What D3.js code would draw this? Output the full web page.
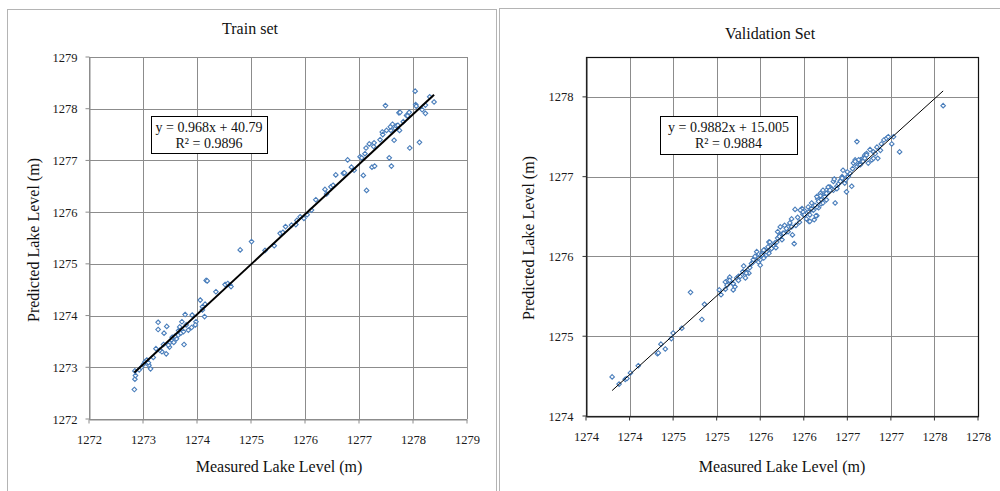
<!DOCTYPE html>
<html>
  <head>
    <title>Lake level scatter</title>
    <style>
      body,
      html {
        margin: 0;
        padding: 0;
        background: #fff;
      }
      svg {
        display: block;
        font-family: 'Liberation Serif', 'Times New Roman', serif;
      }
    </style>
  </head>
  <body>
    <script src="https://cdn.jsdelivr.net/npm/d3@7"></script>
    <script>
      // measured vs predicted, train set
      const trainPoints = [
        [1272.84, 1272.57], [1272.85, 1272.77], [1272.86, 1272.84], [1272.85, 1272.93],
        [1272.93, 1272.95], [1272.97, 1273.0], [1273.01, 1273.06], [1273.04, 1273.11],
        [1273.07, 1273.14], [1273.11, 1273.04], [1273.14, 1272.97], [1273.1, 1273.09],
        [1273.19, 1273.19], [1273.24, 1273.36], [1273.28, 1273.87], [1273.28, 1273.73],
        [1273.35, 1273.3], [1273.31, 1273.33], [1273.38, 1273.44], [1273.39, 1273.66],
        [1273.44, 1273.79], [1273.43, 1273.26], [1273.49, 1273.39], [1273.49, 1273.47],
        [1273.53, 1273.53], [1273.57, 1273.48], [1273.62, 1273.55], [1273.65, 1273.62],
        [1273.7, 1273.66], [1273.72, 1273.88], [1273.75, 1273.69], [1273.78, 1274.02],
        [1273.76, 1273.44], [1273.8, 1273.82], [1273.84, 1273.72], [1273.9, 1273.77],
        [1273.98, 1273.88], [1273.91, 1274.01], [1273.97, 1273.82], [1274.06, 1274.3],
        [1274.1, 1274.17], [1274.14, 1273.98], [1274.15, 1274.22], [1274.1, 1274.11],
        [1274.17, 1274.68], [1274.19, 1274.67], [1274.35, 1274.46], [1274.52, 1274.6],
        [1274.57, 1274.62], [1274.61, 1274.59], [1274.63, 1274.56], [1273.54, 1273.58],
        [1273.66, 1273.71], [1273.59, 1273.6], [1273.47, 1273.43], [1273.68, 1273.78],
        [1274.8, 1275.27], [1275.01, 1275.43], [1275.26, 1275.26], [1275.43, 1275.35],
        [1275.54, 1275.59], [1275.59, 1275.61], [1275.64, 1275.72], [1275.75, 1275.75],
        [1275.83, 1275.76], [1275.85, 1275.84], [1275.91, 1275.91], [1275.98, 1275.88],
        [1276.04, 1275.95], [1276.12, 1276.04], [1276.2, 1276.24], [1276.37, 1276.44],
        [1276.4, 1276.35], [1276.48, 1276.49], [1276.52, 1276.52], [1276.57, 1276.72],
        [1276.71, 1276.75], [1276.73, 1276.76], [1276.79, 1277.01], [1276.86, 1276.87],
        [1276.91, 1276.81], [1277.02, 1277.07], [1277.05, 1277.05], [1277.08, 1276.71],
        [1277.11, 1277.13], [1277.13, 1277.24], [1277.14, 1276.42], [1277.19, 1277.32],
        [1277.24, 1276.87], [1277.27, 1277.27], [1277.29, 1276.89], [1277.28, 1277.34],
        [1277.39, 1277.4], [1277.43, 1277.55], [1277.44, 1277.5], [1277.49, 1278.06],
        [1277.51, 1277.58], [1277.56, 1277.05], [1277.59, 1277.58], [1277.6, 1276.89],
        [1277.62, 1277.7], [1277.58, 1277.65], [1277.65, 1277.39], [1277.67, 1277.62],
        [1277.69, 1277.67], [1277.72, 1277.68], [1277.74, 1277.92], [1277.75, 1277.58],
        [1277.76, 1277.93], [1277.82, 1277.75], [1277.88, 1277.87], [1277.9, 1277.86],
        [1277.93, 1277.93], [1277.94, 1277.24], [1278.04, 1278.34], [1278.05, 1278.08],
        [1278.06, 1278.05], [1278.12, 1277.35], [1278.17, 1277.98], [1278.23, 1278.07],
        [1278.23, 1277.91], [1278.31, 1278.23], [1278.39, 1278.13]
      ];

      // measured vs predicted, validation set
      const validPoints = [
        [1274.2, 1274.34], [1274.28, 1274.25], [1274.35, 1274.31], [1274.37, 1274.32],
        [1274.41, 1274.39], [1274.5, 1274.48], [1274.72, 1274.63], [1274.73, 1274.64],
        [1274.76, 1274.75], [1274.81, 1274.69], [1274.88, 1274.82], [1274.9, 1274.89],
        [1275.0, 1274.95], [1275.1, 1275.4], [1275.23, 1275.06], [1275.26, 1275.25],
        [1275.43, 1275.43], [1275.45, 1275.37], [1275.5, 1275.53], [1275.5, 1275.44],
        [1275.52, 1275.49], [1275.53, 1275.55], [1275.57, 1275.52], [1275.61, 1275.47],
        [1275.63, 1275.58], [1275.65, 1275.6], [1275.69, 1275.62], [1275.71, 1275.73],
        [1275.73, 1275.58], [1275.74, 1275.66], [1275.77, 1275.64], [1275.78, 1275.71],
        [1275.8, 1275.76], [1275.82, 1275.78], [1275.86, 1275.85], [1275.88, 1275.78],
        [1275.9, 1275.74], [1275.9, 1275.81], [1275.92, 1275.89], [1275.94, 1275.83],
        [1275.95, 1275.93], [1275.97, 1275.87], [1275.99, 1275.97], [1276.0, 1276.03],
        [1276.0, 1275.89], [1276.02, 1275.94], [1276.05, 1275.99], [1276.07, 1276.02],
        [1276.1, 1276.08], [1276.08, 1275.96], [1276.13, 1276.22], [1276.13, 1276.12],
        [1276.15, 1276.06], [1276.16, 1276.14], [1276.18, 1276.24], [1276.2, 1276.16],
        [1276.22, 1276.22], [1276.24, 1276.27], [1276.26, 1276.32], [1276.27, 1276.12],
        [1276.29, 1276.01], [1276.3, 1276.44], [1276.31, 1276.24], [1276.33, 1276.34],
        [1276.35, 1276.28], [1276.38, 1276.45], [1276.39, 1276.38], [1276.41, 1276.42],
        [1276.45, 1276.47], [1276.46, 1276.29], [1276.49, 1276.52], [1276.51, 1276.43],
        [1276.52, 1276.31], [1276.55, 1276.36], [1276.56, 1276.57], [1276.59, 1276.64],
        [1276.6, 1276.51], [1276.62, 1276.58], [1276.64, 1276.62], [1276.66, 1276.68],
        [1276.68, 1276.65], [1276.7, 1276.72], [1276.72, 1276.7], [1276.74, 1276.79],
        [1276.75, 1276.82], [1276.76, 1276.52], [1276.78, 1276.73], [1276.8, 1276.76],
        [1276.82, 1276.8], [1276.84, 1276.85], [1276.85, 1276.93], [1276.87, 1276.77],
        [1276.89, 1276.66], [1276.91, 1276.86], [1276.93, 1276.89], [1276.95, 1276.73],
        [1276.97, 1277.02], [1276.99, 1277.06], [1277.01, 1277.29], [1277.01, 1276.98],
        [1277.03, 1277.0], [1277.05, 1277.06], [1277.06, 1277.04], [1277.08, 1277.08],
        [1277.1, 1277.12], [1277.12, 1277.14], [1277.14, 1277.02], [1277.16, 1277.19],
        [1277.18, 1277.06], [1277.2, 1277.16], [1277.22, 1277.14], [1277.28, 1277.18],
        [1277.29, 1277.26], [1277.32, 1277.31], [1277.35, 1277.33], [1277.37, 1277.35],
        [1277.41, 1277.26], [1277.43, 1277.35], [1277.5, 1277.16], [1278.0, 1277.74],
        [1275.55, 1275.59], [1275.59, 1275.43], [1275.84, 1275.83], [1275.86, 1275.91],
        [1276.1, 1276.16], [1276.43, 1276.32], [1276.57, 1276.46], [1276.66, 1276.56],
        [1276.85, 1276.83], [1276.9, 1276.91], [1277.24, 1277.22], [1277.25, 1277.08],
        [1276.26, 1276.22], [1276.22, 1276.16], [1276.2, 1276.2], [1276.17, 1276.14],
        [1276.12, 1276.1], [1276.09, 1276.03], [1276.03, 1275.95], [1276.01, 1276.03],
        [1275.97, 1275.91], [1275.94, 1275.93], [1275.92, 1275.87], [1275.88, 1275.83],
        [1275.84, 1275.85], [1275.82, 1275.81], [1275.74, 1275.64], [1275.7, 1275.66],
        [1275.67, 1275.6], [1275.65, 1275.55], [1275.59, 1275.51], [1275.55, 1275.55],
        [1276.47, 1276.29], [1276.46, 1276.41], [1276.39, 1276.41], [1276.41, 1276.37],
        [1276.36, 1276.43], [1276.62, 1276.52], [1276.55, 1276.47], [1277.2, 1277.08],
        [1277.12, 1277.12], [1277.1, 1277.08], [1277.08, 1277.04], [1277.05, 1277.0],
        [1277.03, 1277.06], [1276.99, 1277.04], [1276.96, 1276.95], [1276.91, 1276.85],
        [1276.88, 1276.81], [1276.84, 1276.83], [1276.82, 1276.79], [1276.78, 1276.7],
        [1276.74, 1276.68], [1276.7, 1276.68], [1276.68, 1276.72], [1276.66, 1276.64],
        [1276.64, 1276.6], [1276.62, 1276.68], [1276.6, 1276.56], [1276.59, 1276.61],
        [1276.57, 1276.54], [1276.55, 1276.6], [1276.53, 1276.49], [1276.49, 1276.45],
        [1276.47, 1276.37], [1276.54, 1276.36]
      ];

      // fitted trend lines (as printed on the charts)
      const trainFit = { slope: 0.968, intercept: 40.79, eq: 'y = 0.968x + 40.79', r2: 'R² = 0.9896' };
      const validFit = { slope: 0.9882, intercept: 15.005, eq: 'y = 0.9882x + 15.005', r2: 'R² = 0.9884' };

      // axes
      const trainXTicks = [1272, 1273, 1274, 1275, 1276, 1277, 1278, 1279];
      const trainXLabels = ['1272', '1273', '1274', '1275', '1276', '1277', '1278', '1279'];
      const trainYTicks = [1272, 1273, 1274, 1275, 1276, 1277, 1278, 1279];
      const trainYLabels = ['1272', '1273', '1274', '1275', '1276', '1277', '1278', '1279'];

      const validXTicks = [1273.9, 1274.4, 1274.9, 1275.4, 1275.9, 1276.4, 1276.9, 1277.4, 1277.9, 1278.4];
      const validXLabels = ['1274', '1274', '1275', '1275', '1276', '1276', '1277', '1277', '1278', '1278'];
      const validYTicks = [1273.85, 1274.85, 1275.85, 1276.85, 1277.85];
      const validYLabels = ['1274', '1275', '1276', '1277', '1278'];

      const width = 1000;
      const height = 491;
      const svg = d3.select('body').append('svg').attr('width', width).attr('height', height);

      // panel frames
      svg.append('rect').attr('x', 7.5).attr('y', 9.5).attr('width', 489).attr('height', 500)
        .attr('fill', 'none').attr('stroke', '#b4b4b4');
      svg.append('rect').attr('x', 499.5).attr('y', 8.5).attr('width', 520).attr('height', 500)
        .attr('fill', 'none').attr('stroke', '#b4b4b4');

      const diamond = (r) => `M0,${-r}L${r},0L0,${r}L${-r},0Z`;

      function drawPanel(o) {
        const x = d3.scaleLinear().domain(o.xDomain).range([o.left, o.right]);
        const y = d3.scaleLinear().domain(o.yDomain).range([o.bottom, o.top]);
        const g = svg.append('g');

        // gridlines
        g.append('g').selectAll('line').data(o.xTicks).join('line')
          .attr('x1', (d) => Math.round(x(d)) + 0.5).attr('x2', (d) => Math.round(x(d)) + 0.5)
          .attr('y1', o.top).attr('y2', o.bottom)
          .attr('stroke', '#8c8c8c');
        g.append('g').selectAll('line').data(o.yTicks).join('line')
          .attr('y1', (d) => Math.round(y(d)) + 0.5).attr('y2', (d) => Math.round(y(d)) + 0.5)
          .attr('x1', o.left).attr('x2', o.right)
          .attr('stroke', '#8c8c8c');

        if (o.frame) {
          g.append('rect').attr('x', o.left + 0.5).attr('y', o.top + 0.5)
            .attr('width', o.right - o.left).attr('height', o.bottom - o.top)
            .attr('fill', 'none').attr('stroke', '#111').attr('stroke-width', 1.2);
        }

        // axes
        const xAxis = d3.axisBottom(x).tickValues(o.xTicks)
          .tickFormat((d, i) => o.xLabels[i]).tickSize(4).tickSizeOuter(0).tickPadding(12);
        const yAxis = d3.axisLeft(y).tickValues(o.yTicks)
          .tickFormat((d, i) => o.yLabels[i]).tickSize(4).tickSizeOuter(0).tickPadding(o.yPad);

        const gx = g.append('g').attr('transform', `translate(0,${Math.round(o.bottom) + 0.5})`).call(xAxis);
        const gy = g.append('g').attr('transform', `translate(${Math.round(o.left) + 0.5},0)`).call(yAxis);
        [gx, gy].forEach((a) => {
          a.attr('font-family', null).attr('font-size', null);
          a.select('.domain').attr('stroke', o.axisColor);
          a.selectAll('.tick line').attr('stroke', o.axisColor);
          a.selectAll('.tick text').attr('fill', '#1a1a1a').style('font-size', '12.5px');
        });
        gx.selectAll('.tick line').attr('transform', 'translate(-0.5,0)');
        gy.selectAll('.tick line').attr('transform', 'translate(0,-0.5)');

        // points
        g.append('g').selectAll('path').data(o.points).join('path')
          .attr('transform', (d) => `translate(${x(d[0])},${y(d[1])})`)
          .attr('d', diamond(2.3))
          .attr('fill', '#fff')
          .attr('stroke', '#4a7ebb')
          .attr('stroke-width', 1.1);

        // trend line over the data range
        const ext = d3.extent(o.points, (d) => d[0]);
        g.append('path')
          .datum(ext)
          .attr('d', d3.line().x((d) => x(d)).y((d) => y(o.fit.slope * d + o.fit.intercept)))
          .attr('fill', 'none')
          .attr('stroke', '#000')
          .attr('stroke-width', o.lineWidth);

        // equation box
        const b = o.box;
        g.append('rect').attr('x', b.x + 0.5).attr('y', b.y + 0.5).attr('width', b.w).attr('height', b.h)
          .attr('fill', '#fff').attr('stroke', '#000').attr('stroke-width', 1);
        g.append('text').attr('x', b.x + b.w / 2).attr('y', b.y + 16).attr('text-anchor', 'middle')
          .style('font-size', '14px').attr('fill', '#111').text(o.fit.eq);
        g.append('text').attr('x', b.x + b.w / 2).attr('y', b.y + 32).attr('text-anchor', 'middle')
          .style('font-size', '14px').attr('fill', '#111').text(o.fit.r2);

        // titles
        g.append('text').attr('x', o.titleX).attr('y', o.titleY).attr('text-anchor', 'middle')
          .style('font-size', '16px').attr('fill', '#111').text(o.title);
        g.append('text').attr('x', o.xTitleX).attr('y', 472).attr('text-anchor', 'middle')
          .style('font-size', '16px').attr('fill', '#111').text('Measured Lake Level (m)');
        g.append('text').attr('transform', `translate(${o.yTitleX},${o.yTitleY}) rotate(-90)`)
          .attr('text-anchor', 'middle')
          .style('font-size', '16px').attr('fill', '#111').text('Predicted Lake Level (m)');
      }

      drawPanel({
        points: trainPoints, fit: trainFit,
        xDomain: [1272, 1279], yDomain: [1272, 1279],
        xTicks: trainXTicks, xLabels: trainXLabels, yTicks: trainYTicks, yLabels: trainYLabels,
        left: 89, right: 467, top: 57, bottom: 419, yPad: 8,
        axisColor: '#8c8c8c', frame: false, lineWidth: 2,
        box: { x: 151, y: 116, w: 116, h: 37 },
        title: 'Train set', titleX: 250, titleY: 34,
        xTitleX: 279, yTitleX: 39, yTitleY: 240
      });

      drawPanel({
        points: validPoints, fit: validFit,
        xDomain: [1273.9, 1278.4], yDomain: [1273.85, 1278.35],
        xTicks: validXTicks, xLabels: validXLabels, yTicks: validYTicks, yLabels: validYLabels,
        left: 586, right: 978, top: 57, bottom: 416, yPad: 9,
        axisColor: '#333', frame: true, lineWidth: 1,
        box: { x: 660, y: 116, w: 137, h: 38 },
        title: 'Validation Set', titleX: 770, titleY: 39,
        xTitleX: 782, yTitleX: 534, yTitleY: 238
      });
    </script>
  </body>
</html>
